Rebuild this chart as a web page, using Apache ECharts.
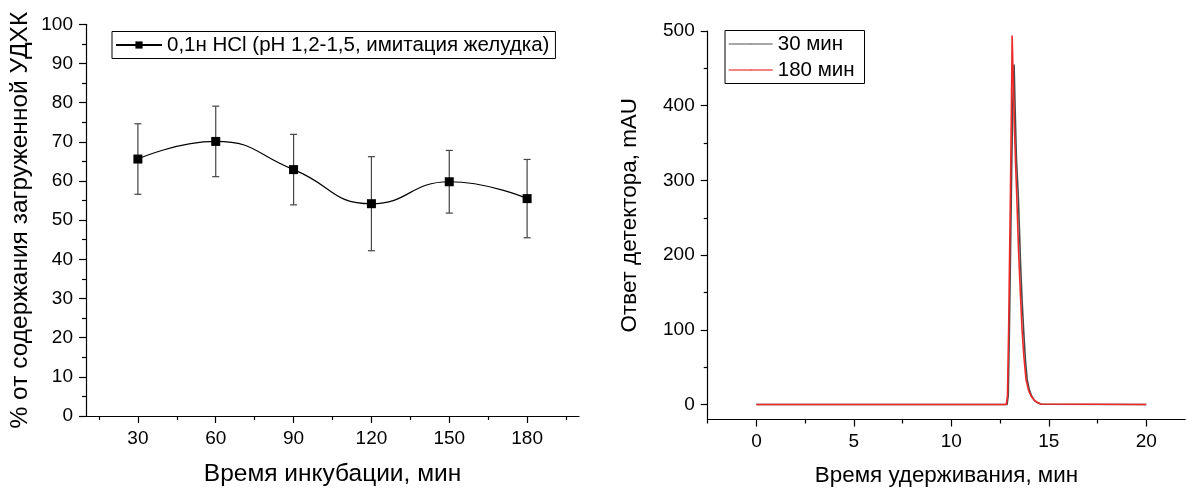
<!DOCTYPE html>
<html>
<head>
<meta charset="utf-8">
<script src="https://cdn.jsdelivr.net/npm/echarts@6/dist/echarts.min.js"></script>
<style>
html,body{margin:0;padding:0;background:#fff;}
#chart{width:1187px;height:492px;}
</style>
</head>
<body>
<div id="chart"></div>
<script>
// ---- Left chart data ----
const incubTimes = [30, 60, 90, 120, 150, 180];
const contentPct = [65.6, 70.1, 62.9, 54.2, 59.8, 55.5];
const contentErr = [9.0, 9.0, 9.0, 12.0, 8.0, 10.0];
const leftXTicks = [30, 60, 90, 120, 150, 180];
const leftXMinor = [15, 45, 75, 105, 135, 165, 195];
const leftYTicks = [0, 10, 20, 30, 40, 50, 60, 70, 80, 90, 100];
const leftYMinor = [5, 15, 25, 35, 45, 55, 65, 75, 85, 95];
const leftSeriesName = '0,1н HCl (pH 1,2-1,5, имитация желудка)';

// ---- Right chart data (chromatograms) ----
const t180 = [0, 12.82, 12.88, 12.94, 12.98, 13.03, 13.08, 13.12, 13.17, 13.24, 13.30, 13.36, 13.45, 13.55, 13.63, 13.72, 13.83, 13.95, 14.09, 14.25, 14.43, 14.60, 14.70, 20];
const v180 = [0, 0, 12, 100, 180, 277, 390, 494, 440, 370, 320, 277, 205, 145, 100, 65, 34, 20, 11.5, 6, 2.7, 0.8, 0, 0];
const t30 = [0, 12.86, 12.92, 12.98, 13.04, 13.10, 13.16, 13.22, 13.28, 13.34, 13.44, 13.55, 13.63, 13.71, 13.80, 13.89, 14.00, 14.12, 14.28, 14.45, 14.62, 14.72, 20];
const v30 = [0, 0, 12, 100, 210, 320, 410, 455, 390, 330, 277, 190, 140, 100, 60, 34, 20, 11.5, 5, 2, 0.5, 0, 0];
const rightXTicks = [0, 5, 10, 15, 20];
const rightXMinor = [-2.5, 2.5, 7.5, 12.5, 17.5];
const rightYTicks = [0, 100, 200, 300, 400, 500];
const rightYMinor = [50, 150, 250, 350, 450];
const rightNames = ['30 мин', '180 мин'];

const FONT = 'Arial, "Liberation Sans", sans-serif';

function mainAxis(gridIndex, min, max, ticks, pos, extra) {
  return Object.assign({
    type: 'value', gridIndex, min, max, position: pos,
    axisLine: {show: true, onZero: false, lineStyle: {color: '#000', width: 1.2}},
    axisTick: {show: true, inside: false, length: 7, customValues: ticks, lineStyle: {color: '#000', width: 1.2}},
    axisLabel: {show: true, customValues: ticks, margin: 13, fontSize: 19, color: '#000', fontFamily: FONT},
    splitLine: {show: false},
    nameLocation: 'middle'
  }, extra || {});
}
function minorAxis(gridIndex, min, max, ticks, pos) {
  return {
    type: 'value', gridIndex, min, max, position: pos, offset: 0,
    axisLine: {show: false, onZero: false},
    axisTick: {show: true, inside: false, length: 4, customValues: ticks, lineStyle: {color: '#000', width: 1.2}},
    axisLabel: {show: false},
    splitLine: {show: false}
  };
}
function nameStyle(size, padding) {
  const s = {fontSize: size, color: '#000', fontFamily: FONT};
  if (padding) s.padding = padding;
  return s;
}

const errData = incubTimes.map((x, i) => [x, contentPct[i] - contentErr[i], contentPct[i] + contentErr[i]]);

const chart = echarts.init(document.getElementById('chart'), null, {renderer: 'canvas'});
chart.setOption({
  animation: false,
  backgroundColor: '#fff',
  textStyle: {fontFamily: FONT},
  grid: [
    {left: 86, top: 24.3, width: 493, height: 396.4},
    {left: 707.7, top: 31, width: 477.5, height: 392.3}
  ],
  legend: [
    {
      data: [leftSeriesName],
      left: 112, top: 31.5,
      orient: 'vertical',
      borderColor: '#000', borderWidth: 1, borderRadius: 0,
      padding: [3, 6, 3, 3],
      itemWidth: 46, itemHeight: 9,
      textStyle: {fontSize: 20.5, color: '#000', fontFamily: FONT},
      itemGap: 4
    },
    {
      data: [
        {name: rightNames[0], lineStyle: {color: '#888', width: 1.5}},
        {name: rightNames[1], lineStyle: {color: '#f05a5a', width: 1.5}}
      ],
      left: 725, top: 30.5,
      orient: 'vertical',
      borderColor: '#000', borderWidth: 1, borderRadius: 0,
      padding: [3, 10, 3, 3],
      itemWidth: 44, itemHeight: 2,
      textStyle: {fontSize: 20.5, color: '#000', fontFamily: FONT},
      itemGap: 5
    }
  ],
  xAxis: [
    mainAxis(0, 10, 200, leftXTicks, 'bottom', {name: 'Время инкубации, мин', nameGap: 46, nameTextStyle: nameStyle(24.5)}),
    minorAxis(0, 10, 200, leftXMinor, 'bottom'),
    mainAxis(1, -2.5, 22, rightXTicks, 'bottom', {name: 'Время удерживания, мин', nameGap: 45.5, nameTextStyle: nameStyle(22.4)}),
    minorAxis(1, -2.5, 22, rightXMinor, 'bottom')
  ],
  yAxis: [
    mainAxis(0, 0, 100, leftYTicks, 'left', {name: '% от содержания загруженной УДХК', nameGap: 53, nameTextStyle: nameStyle(24.5)}),
    minorAxis(0, 0, 100, leftYMinor, 'left'),
    mainAxis(1, -20, 500, rightYTicks, 'left', {name: 'Ответ детектора, mAU', nameGap: 66.5, nameTextStyle: nameStyle(22.4, [0, 0, 0, 20])}),
    minorAxis(1, -20, 500, rightYMinor, 'left')
  ],
  series: [
    {
      type: 'custom',
      xAxisIndex: 0, yAxisIndex: 0,
      data: errData,
      z: 2,
      silent: true,
      renderItem: function (params, api) {
        const x = api.value(0);
        const lo = api.coord([x, api.value(1)]);
        const hi = api.coord([x, api.value(2)]);
        const cap = 3.5;
        const style = {stroke: '#444', lineWidth: 1.2, fill: null};
        return {
          type: 'group',
          children: [
            {type: 'line', shape: {x1: lo[0], y1: lo[1], x2: hi[0], y2: hi[1]}, style},
            {type: 'line', shape: {x1: lo[0] - cap, y1: lo[1], x2: lo[0] + cap, y2: lo[1]}, style},
            {type: 'line', shape: {x1: hi[0] - cap, y1: hi[1], x2: hi[0] + cap, y2: hi[1]}, style}
          ]
        };
      }
    },
    {
      name: leftSeriesName,
      type: 'line',
      xAxisIndex: 0, yAxisIndex: 0,
      data: incubTimes.map((x, i) => [x, contentPct[i]]),
      smooth: 0.5,
      symbol: 'rect', symbolSize: 9,
      itemStyle: {color: '#000'},
      lineStyle: {color: '#000', width: 1.2},
      z: 3
    },
    {
      name: rightNames[0],
      type: 'line',
      xAxisIndex: 2, yAxisIndex: 2,
      data: t30.map((t, i) => [t, v30[i]]),
      symbol: 'none',
      itemStyle: {color: '#888'},
      lineStyle: {color: '#4a4a4a', width: 1.6}
    },
    {
      name: rightNames[1],
      type: 'line',
      xAxisIndex: 2, yAxisIndex: 2,
      data: t180.map((t, i) => [t, v180[i]]),
      symbol: 'none',
      itemStyle: {color: '#f05a5a'},
      lineStyle: {color: '#ee2a2a', width: 1.6}
    }
  ]
});
</script>
</body>
</html>
